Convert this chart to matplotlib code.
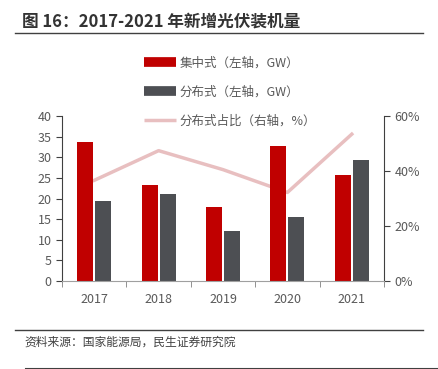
import matplotlib.pyplot as plt
import numpy as np
from matplotlib.lines import Line2D

plt.rcParams['font.family'] = ['Noto Sans CJK SC', 'DejaVu Sans']

years = ["2017", "2018", "2019", "2020", "2021"]
central = [33.6, 23.3, 17.9, 32.7, 25.6]      # 集中式 GW
distributed = [19.4, 21.0, 12.2, 15.5, 29.3]  # 分布式 GW
share = [36.6, 47.4, 40.5, 32.2, 53.4]        # 分布式占比 %

red = "#C00000"
dark = "#4D4F53"
pink = "#E8BFC0"
grey = "#595959"

fig = plt.figure(figsize=(4.38, 3.69), dpi=100)
ax = fig.add_axes([0.1416, 0.2385, 0.7351, 0.4471])
ax2 = ax.twinx()

x = np.arange(len(years))
w = 0.25
ax.bar(x - w / 2 - 0.015, central, w, color=red, zorder=2)
ax.bar(x + w / 2 + 0.015, distributed, w, color=dark, zorder=2)
ax2.plot(x, share, color=pink, lw=2.5, zorder=1)

ax.set_xlim(-0.5, len(years) - 0.5)
ax.set_ylim(0, 40)
ax.set_yticks(range(0, 41, 5))
ax2.set_ylim(0, 60)
ax2.set_yticks([0, 20, 40, 60])
ax2.set_yticklabels(["0%", "20%", "40%", "60%"])

ax.set_xticks(x)
ax.set_xticklabels(years)
ax.set_xticks(np.arange(-0.5, len(years), 1), minor=True)
ax.tick_params(axis='x', which='major', length=0, pad=9, labelsize=9, labelcolor=grey)
ax.tick_params(axis='x', which='minor', length=4, color="#808080", direction='out')
ax.tick_params(axis='y', length=4, color="#404040", labelsize=9, labelcolor=grey)
ax2.tick_params(axis='y', length=4, color="#404040", labelsize=9, labelcolor=grey)

for a in (ax, ax2):
    a.spines['top'].set_visible(False)
ax.spines['right'].set_visible(False)
ax2.spines['left'].set_visible(False)
ax2.spines['bottom'].set_visible(False)
ax.spines['left'].set_color("#404040")
ax2.spines['right'].set_color("#404040")
ax.spines['bottom'].set_color("#A0A0A0")
ax.set_zorder(ax2.get_zorder() + 1)
ax.patch.set_visible(False)

handles = [Line2D([], [], color=red, lw=7, solid_capstyle='butt'),
           Line2D([], [], color=dark, lw=7, solid_capstyle='butt'),
           Line2D([], [], color=pink, lw=2.5, solid_capstyle='butt')]
labels = ["集中式（左轴，GW）", "分布式（左轴，GW）", "分布式占比（右轴，%）"]
fig.legend(handles, labels, loc='upper left', bbox_to_anchor=(0.303, 0.878),
           frameon=False, fontsize=9, labelcolor=grey, handlelength=2.6,
           handletextpad=0.25, labelspacing=1.28)

fig.text(0.05, 0.965, "图 16：2017-2021 年新增光伏装机量", fontsize=12,
         fontweight='bold', color="#333333", va='top')
fig.add_artist(Line2D([0.035, 0.965], [0.91, 0.91], color="#404040", lw=1))
fig.add_artist(Line2D([0.035, 0.965], [0.107, 0.107], color="#404040", lw=1))
fig.text(0.055, 0.072, "资料来源：国家能源局，民生证券研究院", fontsize=8.5,
         color="#404040", va='center')
fig.add_artist(Line2D([0.06, 1.0], [0.0, 0.0], color="#404040", lw=1.5))

fig.savefig("out.png", dpi=100)
